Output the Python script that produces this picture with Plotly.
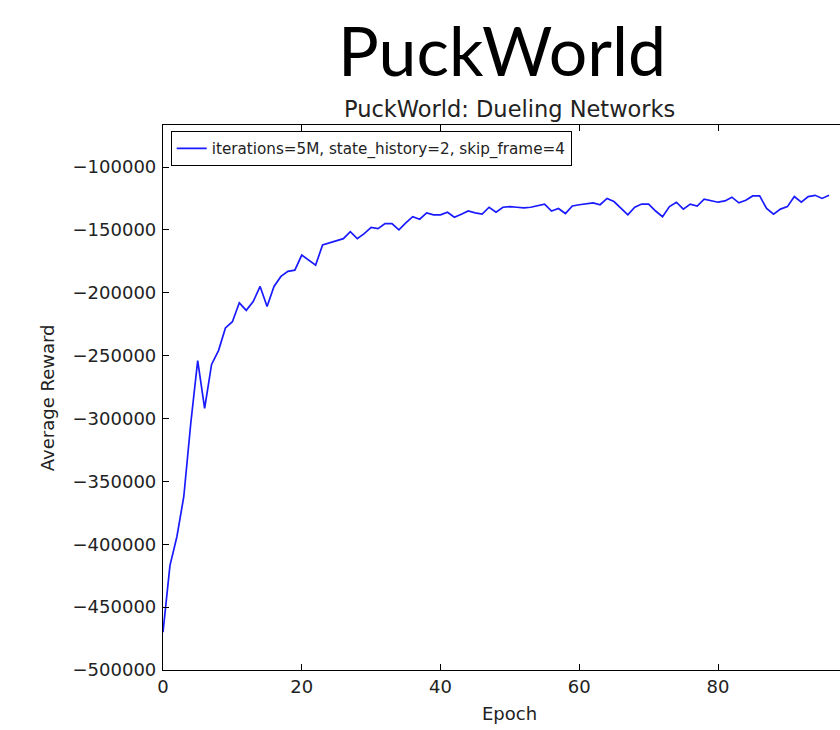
import plotly.graph_objects as go

# Average reward per epoch, PuckWorld with dueling networks
epochs = list(range(97))
avg_reward = [
    -470000, -417000, -394000, -362000, -304000, -254000, -292000, -257000,
    -246000, -228000, -223000, -208000, -214000, -207000, -195000, -211000,
    -195000, -187000, -183000, -182000, -170000, -174000, -178000, -162000,
    -160500, -158500, -157000, -151500, -157000, -153000, -148000, -149000,
    -145000, -145000, -150000, -144500, -139500, -141500, -136500, -138000,
    -138000, -136000, -140000, -137500, -135000, -136500, -137500, -132000,
    -136000, -132000, -131500, -132000, -132500, -132000, -131000, -129500,
    -135000, -133000, -137000, -131000, -130000, -129000, -128500, -130000,
    -125000, -127500, -133000, -138000, -132000, -129500, -129500, -135000,
    -139500, -131500, -128000, -133500, -129500, -131000, -125500, -126500,
    -128000, -127000, -124000, -128500, -126500, -123000, -123000, -133000,
    -137500, -133500, -131500, -123500, -128000, -123500, -122500, -125000,
    -122500,
]
series_name = "iterations=5M, state_history=2, skip_frame=4"
y_ticks = list(range(-500000, -99999, 50000))
x_ticks = [0, 20, 40, 60, 80]

FONT = "DejaVu Sans"

fig = go.Figure()
fig.add_trace(go.Scatter(
    x=epochs, y=avg_reward, mode="lines", name=series_name,
    line=dict(color="#1a1aff", width=1.7),
))

axis_common = dict(
    showgrid=False, zeroline=False, showline=True, linecolor="black",
    linewidth=1.2, ticks="inside", ticklen=6, tickwidth=1, tickcolor="black",
    tickfont=dict(family=FONT, size=18, color="#222"),
)

fig.update_layout(
    width=840, height=730,
    margin=dict(l=163, r=0, t=125, b=60),
    paper_bgcolor="white", plot_bgcolor="white",
    font=dict(family=FONT, color="#222"),
    showlegend=True,
    legend=dict(
        x=0.0114, y=0.989, xanchor="left", yanchor="top",
        bgcolor="white", bordercolor="black", borderwidth=1,
        font=dict(family=FONT, size=15.2, color="#222"),
    ),
    xaxis=dict(range=[0, 97.58], tickvals=x_ticks, mirror="ticks", **axis_common),
    yaxis=dict(range=[-500000, -66600], tickvals=y_ticks, tickformat="d",
               ticklabelstandoff=2, **axis_common),
    annotations=[
        dict(text="PuckWorld", xref="paper", yref="paper", x=0.5005,
             y=(670 - 50) / 545, xanchor="center", yanchor="middle",
             showarrow=False, font=dict(family="Lato", size=68, color="black")),
        dict(text="PuckWorld: Dueling Networks", xref="paper", yref="paper",
             x=0.5123, y=(670 - 109) / 545, xanchor="center", yanchor="middle",
             showarrow=False, font=dict(family=FONT, size=22.5, color="#222")),
        dict(text="Epoch", xref="paper", yref="paper", x=0.5123,
             y=(670 - 713) / 545, xanchor="center", yanchor="middle",
             showarrow=False, font=dict(family=FONT, size=18, color="#222")),
        dict(text="Average Reward", xref="paper", yref="paper",
             x=(48 - 163.3) / 676.7, y=0.5, xanchor="center", yanchor="middle",
             textangle=-90, showarrow=False,
             font=dict(family=FONT, size=18, color="#222")),
    ],
)

fig.write_html("out.html")
